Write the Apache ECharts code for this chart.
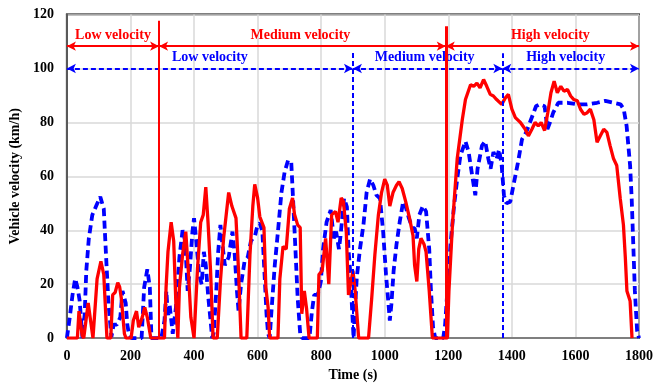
<!DOCTYPE html>
<html>
<head>
<meta charset="utf-8">
<script src="https://cdn.jsdelivr.net/npm/echarts@6/dist/echarts.min.js"></script>
<style>html,body{margin:0;padding:0;background:#fff;overflow:hidden;}#c{width:656px;height:387px;}</style>
</head>
<body>
<div id="c"></div>
<script>
// Solid red trace (time s, velocity km/h)
const redTime = [0,33,38,48,53,67,82,95,107,116,126,138,144,152,160,166,171,181,186,202,209,219,226,237,245,253,264,307,312,318,328,336,343,349,354,364,374,382,390,400,411,421,429,437,444,452,460,473,483,493,509,519,532,540,548,566,576,585,591,600,607,620,626,633,638,664,670,680,690,700,710,716,726,734,739,747,754,762,788,793,803,814,824,833,845,853,863,870,879,886,894,900,907,918,949,959,969,980,990,1000,1008,1016,1026,1037,1045,1055,1066,1078,1089,1094,1101,1107,1114,1124,1130,1140,1150,1197,1202,1213,1228,1244,1254,1270,1280,1290,1300,1311,1321,1332,1342,1352,1368,1379,1389,1400,1411,1427,1442,1452,1463,1473,1483,1492,1503,1513,1523,1533,1543,1554,1564,1575,1585,1595,1606,1616,1627,1637,1647,1658,1668,1678,1689,1699,1709,1720,1730,1741,1751,1757,1762,1772,1778];
const redSpeed = [0,0,10,1,0,13,0,22,28.5,23.6,0,0,16,17,20.6,19,15,1.6,0,0,6.5,10,4,7.7,11.4,7.7,0,0,18.7,32,43,36,12.6,0,18.7,31,39.5,25,7.7,0,26,43,45.7,56,43,25,0,0,21,37,54,49,44.5,25,0,0,31,49,57,52,45,41,18.7,11.4,0,0,22,34,33,48,52,46,42,41,9,17.5,11,0,0,23.6,25,37,20,45.7,47,43,52,50.6,39.5,16,21,25,17.5,0,0,14.7,31,45.7,54,59,56.7,49,54,56.7,58,55.5,50.6,44.5,38,27,21,33,37,34.7,32,17.5,0,0,17.5,42,66.5,81,88.5,94,93.4,94.6,92.8,95.9,93.4,90.4,89.8,88.5,86.7,89,90.4,84.9,81.8,80,77.5,75,77.5,80,78.7,80,77,83.6,91,95.3,91,93.4,91.6,92.2,89.8,88.5,88,84.9,83,83.6,84.9,81,72.6,75,77.5,76.3,71.4,66.5,64,51.8,42,29.8,17.5,13.8,0];
// Dashed blue trace
const blueTime = [0,3,9,17.6,26,33,40,49,56,61,69,80,92,105,116,123,131,140,147,157,168,175,180,185,190,196,204,235,243,253,261,266,297,307,313,318,323,333,343,354,364,372,380,387,395,400,407,416,424,431,437,445,452,457,462,470,476,483,488,497,509,521,528,535,540,548,559,569,579,592,600,607,615,623,628,633,638,643,654,664,675,685,696,706,711,719,726,734,740,763,771,778,789,799,806,817,830,840,847,856,861,872,881,886,892,897,902,907,912,922,933,943,954,964,974,985,995,1004,1011,1016,1021,1028,1037,1047,1058,1066,1076,1087,1094,1101,1109,1120,1130,1140,1145,1152,1159,1184,1190,1197,1207,1218,1228,1238,1254,1264,1275,1285,1292,1306,1316,1326,1333,1342,1352,1360,1368,1375,1383,1395,1405,1419,1432,1445,1460,1476,1487,1503,1512,1520,1530,1546,1575,1606,1637,1668,1694,1720,1742,1752,1761,1772,1777,1782,1787,1794,1800];
const blueSpeed = [0,0,7.7,16,22,19,14,0,9,25,37,45.7,49,52.4,48,31,12.6,0.4,5,5,7.7,17.5,18,13,5,1,0,0,18.7,25.5,18.7,0,0,6.5,17.5,7.7,12.6,1.6,11.4,30,40,36,17.5,26,39.5,44.5,36,23.6,20,32,27,15,6.5,0,2,17.5,32,42,36,27,30,39.5,31,17.5,10,20,28.5,30,36,38,42,42.6,39.5,21,9,1.6,0,9,27,39.5,54,61.6,66,65,53,33,15,1.6,0,0,10,16,16,21,33,43,47.5,37,39.5,33,38,51.8,48.7,33,23.6,11.4,0,12,22.4,33,42,54,59,56.7,53,51.8,39.5,23.6,13.8,6.5,12.6,25,34.7,43,50.6,48.7,44.5,40.8,40.8,37,45.7,49,47,33,18.7,4,0,0,5,17.5,34.7,49,59,67.7,73,69,60.4,53,62.8,71.4,73,66.5,62.8,69,66.5,70,64,53,50,50.6,56.7,65,73.8,76.3,81,86,86.7,86,77.5,80,83.6,87.3,87.3,86.7,86.7,87.3,88,87.3,86.7,84.9,78.7,64,51.8,34.7,17.5,2.8,0];
// Annotation: phase bounds and labels
const redPhaseLabels = ['Low velocity','Medium velocity','High velocity'];
const redPhaseBounds = [0, 290, 1192, 1800];
const redArrowLevel = 108.3;
const redDividerTops = [117.7, 115.7];
const bluePhaseLabels = ['Low velocity','Medium velocity','High velocity'];
const bluePhaseBounds = [0, 900, 1370, 1800];
const blueArrowLevel = 100;
const blueDividerTops = [105.8, 105.7];
const xTicks = {min:0, max:1800, interval:200};
const yTicks = {min:0, max:120, interval:20};

const RED = '#ff0000', BLUE = '#0000ff';
const FONT = '"Liberation Serif","Times New Roman",serif';
const pair = (t, v) => t.map((x, i) => [x, v[i]]);

function arrows(bounds, labels, level, color, type, width, dist, offs) {
  const d = [];
  for (let i = 0; i < labels.length; i++) {
    d.push([
      {coord:[bounds[i], level], name: labels[i], symbol:'arrow', symbolSize:[7,9],
       lineStyle:{color:color, width:width, type:type},
       label:{show:true, position:'middle', formatter:'{b}', distance:dist, color:color,
              offset:[offs[i],0],
              fontFamily:FONT, fontWeight:'bold', fontSize:14}},
      {coord:[bounds[i+1], level], symbol:'arrow', symbolSize:[7,9]}
    ]);
  }
  return d;
}
function dividers(bounds, tops, color, type, widths) {
  const d = [];
  for (let i = 0; i < tops.length; i++) {
    d.push([
      {coord:[bounds[i+1], 0], symbol:'none', lineStyle:{color:color, width:widths[i], type:type}, label:{show:false}},
      {coord:[bounds[i+1], tops[i]], symbol:'none'}
    ]);
  }
  return d;
}

const chart = echarts.init(document.getElementById('c'), null, {renderer:'canvas'});
chart.setOption({
  animation:false,
  backgroundColor:'#fff',
  grid:{left:61, right:15, top:14.6, bottom:46, show:true, borderColor:'#000', borderWidth:2, containLabel:false},
  xAxis:{type:'value', min:xTicks.min, max:xTicks.max, interval:xTicks.interval,
    name:'Time (s)', nameLocation:'middle', nameGap:29,
    nameTextStyle:{fontFamily:FONT, fontWeight:'bold', fontSize:14, color:'#000'},
    axisLine:{show:true, onZero:false, lineStyle:{color:'#7f7f7f', width:2}},
    axisTick:{show:false},
    axisLabel:{margin:11, fontFamily:FONT, fontWeight:'bold', fontSize:14, color:'#000', formatter: v => String(v)},
    splitLine:{show:true, lineStyle:{color:'#d9d9d9', width:1.5}}},
  yAxis:{type:'value', min:yTicks.min, max:yTicks.max, interval:yTicks.interval,
    name:'Vehicle velocity (km/h)', nameLocation:'middle', nameGap:44,
    nameTextStyle:{fontFamily:FONT, fontWeight:'bold', fontSize:14, color:'#000'},
    axisLine:{show:true, onZero:false, lineStyle:{color:'#595959', width:2}},
    axisTick:{show:false},
    axisLabel:{margin:13, fontFamily:FONT, fontWeight:'bold', fontSize:14, color:'#000', formatter: v => String(v)},
    splitLine:{show:true, lineStyle:{color:'#d9d9d9', width:1.5}}},
  series:[
    {type:'line', name:'blue', data:pair(blueTime, blueSpeed), showSymbol:false, symbol:'none', z:3,
     lineStyle:{color:BLUE, width:3.8, type:[8,4.5]},
     markLine:{silent:true, animation:false, z:6,
       data: arrows(bluePhaseBounds, bluePhaseLabels, blueArrowLevel, BLUE, [5,3], 2, 4, [0,-3,-5])
             .concat(dividers(bluePhaseBounds, blueDividerTops, BLUE, [5,3], [2,2]))}},
    {type:'line', name:'red', data:pair(redTime, redSpeed), showSymbol:false, symbol:'none', z:4,
     lineStyle:{color:RED, width:3.3},
     markLine:{silent:true, animation:false, z:7,
       data: arrows(redPhaseBounds, redPhaseLabels, redArrowLevel, RED, 'solid', 2, 4, [0,-2,8])
             .concat(dividers(redPhaseBounds, redDividerTops, RED, 'solid', [2,3]))}}
  ]
});
</script>
</body>
</html>
